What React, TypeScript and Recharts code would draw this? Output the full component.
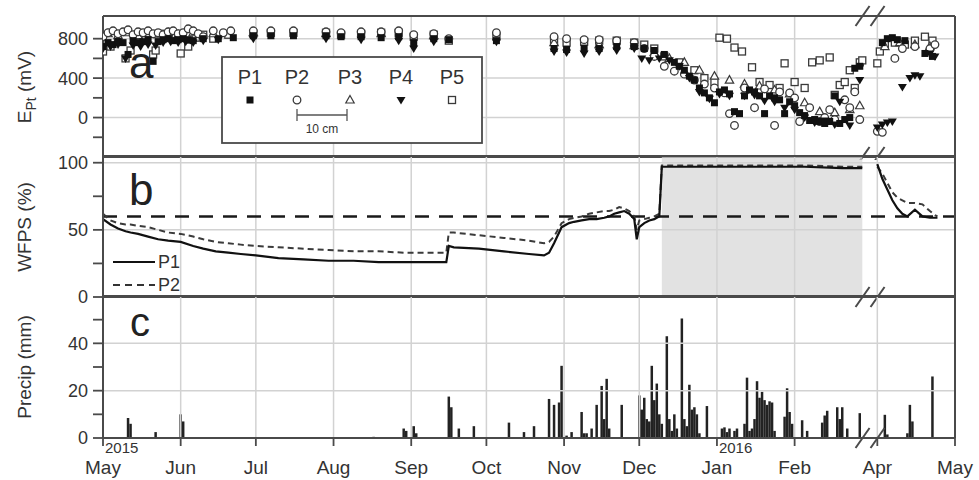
import React from 'react';
import {
  Bar,
  ComposedChart,
  Line,
  ReferenceArea,
  ReferenceDot,
  ReferenceLine,
  Scatter,
  ScatterChart,
  XAxis,
  YAxis,
} from 'recharts';

const FONT = '"Liberation Sans", Arial, sans-serif';
const INK = '#333';
const FRAME = '#4a4a4a';
const GRID = '#d2d2d2';

// days counted from 1 May 2015; March 2016 is cut out of the axis
const monthTicks = [0, 31, 61, 92, 123, 153, 184, 214, 245, 276, 309, 340];
const monthLabels = ['May', 'Jun', 'Jul', 'Aug', 'Sep', 'Oct', 'Nov', 'Dec', 'Jan', 'Feb', 'Apr', 'May'];
const yearLabels: Record<number, string> = { 0: '2015', 245: '2016' };
const BREAK_X = 305.5;
const toAxis = (day: number) => (day >= 335 ? day - 26 : day);

// panel a: platinum electrode potential (mV)
const eptP1: [number, number][] = [
  [0, 720], [2, 760], [4, 740], [6, 770], [8, 760], [10, 640], [12, 780], [14, 760], [16, 770], [18, 790],
  [20, 570], [22, 770], [24, 790], [26, 800], [28, 780], [30, 790], [32, 800], [34, 790], [36, 780], [40, 800],
  [46, 800], [52, 810], [60, 830], [67, 830], [76, 830], [89, 830], [95, 820], [103, 820], [111, 810], [118, 820],
  [124, 760], [132, 800], [138, 790], [157, 780], [180, 700], [185, 690], [192, 700], [198, 700], [205, 720], [212, 720],
  [216, 700], [220, 680], [224, 640], [228, 560], [230, 520], [232, 480], [234, 420], [236, 380], [238, 300], [240, 250],
  [242, 200], [244, 150], [246, 260], [248, 280], [250, 240], [252, 60], [254, 40], [256, 220], [258, 280], [260, 260],
  [262, 220], [264, 40], [266, 220], [268, 200], [270, 180], [272, 40], [274, 160], [276, 120], [278, 50], [280, 20],
  [282, -30], [284, -20], [286, -40], [288, -60], [290, -40], [292, 220], [294, -60], [296, -20], [298, 0], [300, 500],
  [302, 520], [337, 760], [339, 800], [341, 810], [343, 790], [346, 780], [354, 650], [357, 620],
];
const eptP2: [number, number][] = [
  [0, 820], [2, 860], [4, 880], [6, 850], [8, 870], [10, 890], [12, 840], [14, 870], [16, 860], [18, 880],
  [20, 850], [22, 860], [24, 840], [26, 870], [28, 880], [30, 850], [32, 860], [34, 900], [36, 880], [38, 850],
  [40, 820], [44, 880], [48, 860], [51, 880], [60, 880], [67, 880], [76, 880], [89, 870], [95, 860], [103, 870],
  [111, 870], [118, 880], [124, 840], [132, 850], [138, 800], [157, 860], [180, 820], [185, 800], [192, 790], [198, 790],
  [205, 780], [212, 760], [216, 700], [220, 620], [224, 520], [228, 470], [232, 440], [236, 380], [240, 340], [244, 300],
  [248, 250], [250, 40], [252, -80], [256, 300], [260, 100], [264, 290], [268, -80], [270, 260], [274, 250], [276, 200],
  [278, -40], [282, 100], [286, -40], [288, 0], [290, 80], [292, -20], [296, 180], [298, 100], [300, 260], [302, -20],
  [335, -140], [337, -150], [342, 600], [345, 700], [350, 720], [356, 700], [358, 740],
];
const eptP3: [number, number][] = [
  [2, 850], [6, 830], [10, 860], [14, 830], [18, 850], [22, 840], [26, 860], [30, 840], [36, 860], [44, 850],
  [60, 860], [89, 850], [111, 850], [132, 830], [180, 760], [198, 740], [212, 730], [220, 660], [226, 600], [232, 560],
  [238, 480], [244, 420], [250, 380], [256, 340], [262, 320], [268, 280], [274, 240], [280, 150], [286, 60], [292, 50],
  [298, 80], [302, 120], [338, 720], [344, 760], [350, 740], [356, 720],
];
const eptP4: [number, number][] = [
  [0, 700], [3, 720], [6, 740], [9, 600], [12, 730], [15, 720], [18, 740], [21, 730], [24, 760], [27, 770],
  [30, 760], [33, 770], [36, 760], [40, 780], [46, 790], [60, 800], [89, 800], [103, 790], [118, 780], [124, 700],
  [132, 770], [157, 770], [180, 670], [185, 660], [192, 650], [198, 670], [205, 680], [212, 700], [215, 600], [218, 580],
  [222, 600], [226, 580], [230, 520], [234, 400], [238, 260], [242, 190], [246, 240], [250, 220], [256, 220], [260, 230],
  [264, 170], [268, 160], [272, 100], [276, 80], [280, 0], [284, -50], [288, -30], [292, -70], [294, 160], [298, -80],
  [302, 380], [335, -100], [337, -70], [339, -50], [341, -40], [345, 310], [348, 400], [350, 430], [352, 420], [356, 650],
  [358, 620],
];
const eptP5: [number, number][] = [
  [0, 670], [3, 720], [6, 780], [9, 600], [11, 680], [14, 800], [17, 820], [20, 640], [21, 680], [23, 850],
  [26, 810], [29, 830], [31, 650], [34, 720], [37, 810], [40, 840], [44, 800], [50, 840], [60, 850], [67, 860],
  [76, 860], [89, 860], [95, 840], [103, 850], [111, 860], [118, 860], [124, 820], [132, 840], [138, 780], [157, 820],
  [180, 780], [185, 760], [192, 770], [198, 780], [205, 780], [212, 760], [216, 740], [220, 700], [224, 620], [230, 560],
  [236, 480], [240, 400], [244, 360], [246, 810], [249, 800], [252, 710], [255, 670], [259, 510], [262, 360], [266, 330],
  [270, 300], [272, 550], [276, 360], [280, 300], [283, 560], [286, 580], [290, 610], [292, 230], [294, 330], [296, 360],
  [298, 480], [300, 300], [302, 560], [303, 580], [335, 550], [336, 670], [338, 740], [342, 760], [346, 740], [350, 780],
  [354, 820], [357, 780],
];

// panel b: water-filled pore space (%)
const wfpsDays = [
  0, 3, 6, 9, 11, 14, 18, 22, 26, 31, 36, 40, 45, 50, 55, 61, 70, 80, 90, 100,
  110, 120, 130, 137, 138, 140, 150, 160, 170, 176, 178, 180, 183, 186, 188, 191, 194, 197, 200, 202,
  204, 206, 208, 210, 212, 213, 214, 216, 218, 220, 222, 223, 225, 240, 260, 280, 295, 300, 303, 305,
  335, 337, 339, 341, 343, 345, 347, 350, 353, 356, 358, 359,
];
const wfpsP1 = [
  58, 54, 51, 49, 48, 47, 45, 43, 42, 41, 38, 36, 34, 33, 32, 31, 29, 28, 27, 27,
  26, 26, 26, 26, 38, 37, 36, 34, 32, 31, 33, 40, 52, 55, 56, 57, 58, 58, 59, 60,
  62, 63, 64, 62, 58, 43, 52, 55, 57, 58, 60, 97, 97, 97, 97, 97, 96, 96, 96, null,
  99, 88, 80, 72, 66, 62, 60, 65, 60, 59, 59, 59,
];
const wfpsP2 = [
  62, 57, 55, 54, 54, 53, 52, 50, 48, 47, 45, 43, 41, 40, 39, 38, 37, 36, 35, 34,
  34, 33, 33, 33, 48, 48, 46, 44, 42, 40, 41, 45, 55, 58, 59, 60, 62, 63, 64, 64,
  65, 67, 66, 64, 60, 50, 57, 58, 59, 60, 62, 98, 98, 98, 98, 98, 97, 97, 97, null,
  97, 92, 85, 78, 74, 72, 70, 70, 69, 64, 61, 60,
];
const WFPS_THRESHOLD = 60;
const saturatedFrom = 223;
const saturatedTo = 303;

// panel c: daily precipitation (mm)
const precipDays = [
  10, 11, 21, 31, 32, 108, 120, 121, 124, 125, 138, 139, 142, 148, 162, 168, 172, 178, 180, 182,
  183, 185, 187, 191, 192, 193, 195, 197, 199, 200, 201, 202, 207, 214, 215, 216, 217, 218, 219, 220,
  221, 222, 223, 225, 226, 227, 228, 229, 231, 232, 233, 234, 235, 236, 237, 238, 241, 247, 248, 249,
  250, 252, 253, 256, 257, 258, 259, 260, 261, 262, 263, 264, 265, 266, 267, 268, 272, 273, 274, 275,
  279, 281, 287, 288, 289, 293, 294, 295, 297, 302, 338, 339, 347, 348, 349, 357,
];
const precipMm = [
  8.5, 6, 2.5, 10, 7, 0.5, 4, 3, 5, 2, 17.5, 13, 4, 5, 6.5, 2.5, 5, 16.5, 14, 15,
  30.5, 1, 2.5, 11, 2, 2, 4, 14, 22, 8, 25, 4, 14, 18, 12, 17, 8, 7, 30.5, 16,
  23, 10, 6, 43, 8, 3, 10, 4, 50.5, 8, 5, 22.5, 12, 13, 10, 2, 13.5, 4, 4.5, 2.5,
  4, 3, 4, 6, 25.5, 3, 4, 8, 24, 17, 19.5, 16, 14, 15.5, 15, 3, 9, 21, 11, 6,
  7.5, 3, 6.5, 9.5, 11.5, 13, 8, 13, 4, 10.5, 9.8, 1.5, 2, 14, 7, 26,
];

const toPoints = (pts: [number, number][]) => pts.map(([d, v]) => ({ x: toAxis(d), y: v }));
const wfpsRows = wfpsDays.map((d, i) => ({ x: toAxis(d), p1: wfpsP1[i], p2: wfpsP2[i] }));
const precipRows = precipDays.map((d, i) => ({ x: toAxis(d), mm: precipMm[i] }));

const axisLine = { stroke: FRAME, strokeWidth: 2 };
const tickLine = { stroke: FRAME, strokeWidth: 1.8 };
const tickText = { fill: INK, fontSize: 18, fontFamily: FONT };

// markers
const filledSquare = (p: any) => <rect x={p.cx - 3.5} y={p.cy - 3.5} width={7} height={7} fill="#111" />;
const openCircle = (p: any) => <circle cx={p.cx} cy={p.cy} r={3.8} fill="#fff" stroke="#3a3a3a" strokeWidth={1.3} />;
const openTriangle = (p: any) => (
  <path d={`M${p.cx},${p.cy - 4.5}L${p.cx + 4.2},${p.cy + 3}L${p.cx - 4.2},${p.cy + 3}Z`} fill="#fff" stroke="#3a3a3a" strokeWidth={1.2} />
);
const filledDown = (p: any) => (
  <path d={`M${p.cx - 4.5},${p.cy - 3}L${p.cx + 4.5},${p.cy - 3}L${p.cx},${p.cy + 4.5}Z`} fill="#111" />
);
const openSquare = (p: any) => (
  <rect x={p.cx - 3.5} y={p.cy - 3.5} width={7} height={7} fill="#fff" stroke="#3a3a3a" strokeWidth={1.3} />
);

function BreakMark(p: any) {
  const { cx, cy } = p;
  return (
    <g stroke={FRAME} strokeWidth={2}>
      <line x1={cx - 13} y1={cy + 10} x2={cx + 1} y2={cy - 10} />
      <line x1={cx + 2} y1={cy + 10} x2={cx + 16} y2={cy - 10} />
    </g>
  );
}

function MonthTick(p: any) {
  const { x, y, payload } = p;
  const i = monthTicks.indexOf(payload.value);
  const year = yearLabels[payload.value];
  return (
    <g fontFamily={FONT} fill={INK}>
      {year && (
        <text x={x + 2} y={y + 7} fontSize={15}>
          {year}
        </text>
      )}
      <text x={x} y={y + 28} textAnchor="middle" fontSize={19}>
        {monthLabels[i]}
      </text>
    </g>
  );
}

function frameAxes(domain: [number, number], ticks: number[], labelled: number[], dataKey?: string) {
  return [
    <XAxis key="xt" xAxisId="top" orientation="top" type="number" dataKey="x" domain={[0, 340]} ticks={monthTicks}
      allowDataOverflow interval={0} height={1} mirror tick={false} tickSize={7} axisLine={axisLine} tickLine={tickLine} />,
    <YAxis key="yl" yAxisId={0} type="number" dataKey={dataKey} domain={domain} ticks={ticks} allowDataOverflow
      interval={0} width={103} tickSize={10} tickMargin={5} axisLine={axisLine} tickLine={tickLine} tick={tickText}
      tickFormatter={(v: number) => (labelled.includes(v) ? String(v) : '')} />,
    <YAxis key="yr" yAxisId="r" orientation="right" type="number" dataKey={dataKey} domain={domain} ticks={ticks}
      allowDataOverflow interval={0} width={24} tickSize={9} tick={false} axisLine={axisLine} tickLine={tickLine} />,
  ];
}

function gridLines(values: number[]) {
  return [
    ...monthTicks.slice(1, -1).map((m) => (
      <ReferenceLine key={`v${m}`} x={m} stroke={GRID} strokeWidth={1.5} />
    )),
    ...values.map((v) => <ReferenceLine key={`h${v}`} y={v} stroke={GRID} strokeWidth={1.5} />),
  ];
}

function breakMarks(lo: number, hi: number, top: boolean) {
  const ys = top ? [hi, lo] : [lo];
  return ys.map((y) => (
    <ReferenceDot key={`b${y}`} x={BREAK_X} y={y} r={0} ifOverflow="visible" shape={(p: any) => <BreakMark {...p} />} />
  ));
}

function EptPanel() {
  const dom: [number, number] = [-400, 1030];
  return (
    <ScatterChart width={979} height={160} margin={{ top: 16, right: 0, bottom: 2, left: 0 }}>
      <XAxis xAxisId={0} type="number" dataKey="x" domain={[0, 340]} ticks={monthTicks} allowDataOverflow height={1}
        tick={false} tickLine={false} axisLine={axisLine} />
      {frameAxes(dom, [-200, 0, 200, 400, 600, 800], [0, 400, 800], 'y')}
      {gridLines([0, 400, 800])}
      <Scatter data={toPoints(eptP5)} shape={openSquare} isAnimationActive={false} />
      <Scatter data={toPoints(eptP3)} shape={openTriangle} isAnimationActive={false} />
      <Scatter data={toPoints(eptP2)} shape={openCircle} isAnimationActive={false} />
      <Scatter data={toPoints(eptP4)} shape={filledDown} isAnimationActive={false} />
      <Scatter data={toPoints(eptP1)} shape={filledSquare} isAnimationActive={false} />
      {breakMarks(dom[0], dom[1], true)}
    </ScatterChart>
  );
}

function WfpsPanel() {
  const dom: [number, number] = [0, 105];
  return (
    <ComposedChart width={979} height={176} data={wfpsRows} margin={{ top: 16, right: 0, bottom: 18, left: 0 }}>
      <XAxis xAxisId={0} type="number" dataKey="x" domain={[0, 340]} ticks={monthTicks} allowDataOverflow height={1}
        tick={false} tickLine={false} axisLine={axisLine} />
      {frameAxes(dom, [0, 25, 50, 75, 100], [0, 50, 100])}
      {gridLines([50, 100])}
      <ReferenceArea x1={saturatedFrom} x2={saturatedTo} y1={0} y2={dom[1]} fill="#d6d6d6" fillOpacity={0.7} stroke="none" />
      <ReferenceLine y={WFPS_THRESHOLD} stroke="#1a1a1a" strokeWidth={2.5} strokeDasharray="14 10" />
      <Line type="linear" dataKey="p2" stroke="#3a3a3a" strokeWidth={2} strokeDasharray="6 4" dot={false}
        connectNulls={false} isAnimationActive={false} />
      <Line type="linear" dataKey="p1" stroke="#111" strokeWidth={2.2} dot={false} connectNulls={false}
        isAnimationActive={false} />
      {breakMarks(dom[0], dom[1], false)}
    </ComposedChart>
  );
}

function PrecipPanel() {
  const dom: [number, number] = [0, 60];
  return (
    <ComposedChart width={979} height={200} data={precipRows} margin={{ top: 16, right: 0, bottom: 0, left: 0 }}>
      <XAxis xAxisId={0} type="number" dataKey="x" domain={[0, 340]} ticks={monthTicks} allowDataOverflow height={42}
        tickSize={8} tickMargin={0} axisLine={axisLine} tickLine={tickLine} tick={<MonthTick />} interval={0} />
      {frameAxes(dom, [0, 10, 20, 30, 40, 50], [0, 20, 40])}
      {gridLines([20, 40])}
      <Bar dataKey="mm" fill="#222" barSize={2.5} isAnimationActive={false} />
      {breakMarks(dom[0], dom[1], false)}
    </ComposedChart>
  );
}

function Overlay() {
  const legend = [
    { name: 'P1', x: 250, mark: filledSquare },
    { name: 'P2', x: 297, mark: openCircle },
    { name: 'P3', x: 350, mark: openTriangle },
    { name: 'P4', x: 401, mark: filledDown },
    { name: 'P5', x: 452, mark: openSquare },
  ];
  return (
    <svg width={979} height={480} style={{ position: 'absolute', left: 0, top: 0, pointerEvents: 'none' }}
      fontFamily={FONT}>
      <text transform="translate(31,87) rotate(-90)" textAnchor="middle" fontSize={19} fill={INK}>
        E<tspan fontSize={14} dy={5}>Pt</tspan>
        <tspan dy={-5}> (mV)</tspan>
      </text>
      <text transform="translate(31,227) rotate(-90)" textAnchor="middle" fontSize={19} fill={INK}>WFPS (%)</text>
      <text transform="translate(31,367) rotate(-90)" textAnchor="middle" fontSize={19} fill={INK}>Precip (mm)</text>

      <text x={129} y={78} fontSize={44} fill="#222">a</text>
      <text x={129} y={205} fontSize={44} fill="#222">b</text>
      <text x={130} y={336} fontSize={40} fill="#222">c</text>

      <rect x={222} y={57} width={260} height={86} fill="#fff" stroke={FRAME} strokeWidth={1.8} />
      {legend.map((l) => (
        <g key={l.name}>
          <text x={l.x} y={84} textAnchor="middle" fontSize={20} fill={INK}>{l.name}</text>
          {l.mark({ cx: l.x, cy: 100 })}
        </g>
      ))}
      <g stroke="#555" strokeWidth={1.3}>
        <line x1={297} y1={115} x2={347} y2={115} />
        <line x1={297} y1={109} x2={297} y2={121} />
        <line x1={347} y1={109} x2={347} y2={121} />
      </g>
      <text x={322} y={133} textAnchor="middle" fontSize={12} fill={INK}>10 cm</text>

      <line x1={113} y1={262} x2={155} y2={262} stroke="#111" strokeWidth={2} />
      <text x={158} y={268} fontSize={18} fill={INK}>P1</text>
      <line x1={113} y1={285} x2={155} y2={285} stroke="#333" strokeWidth={2} strokeDasharray="7 5" />
      <text x={158} y={291} fontSize={18} fill={INK}>P2</text>
    </svg>
  );
}

export default function App() {
  return (
    <div style={{ position: 'absolute', left: 0, top: 0, width: 979, height: 480, background: '#fff', overflow: 'hidden' }}>
      <div style={{ position: 'absolute', left: 0, top: 0 }}>
        <EptPanel />
      </div>
      <div style={{ position: 'absolute', left: 0, top: 140 }}>
        <WfpsPanel />
      </div>
      <div style={{ position: 'absolute', left: 0, top: 280 }}>
        <PrecipPanel />
      </div>
      <Overlay />
    </div>
  );
}
